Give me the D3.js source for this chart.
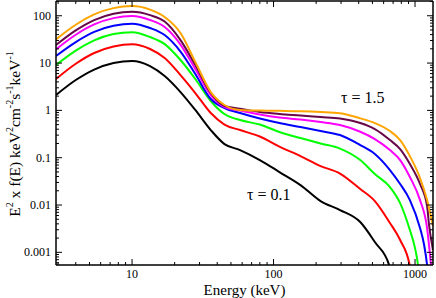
<!DOCTYPE html>
<html><head><meta charset="utf-8">
<script src="https://cdn.jsdelivr.net/npm/d3@7"></script>
<style>body{margin:0;background:#fff}svg{display:block}svg text{font-family:"Liberation Serif","Times New Roman",serif !important;fill:#000}</style>
</head><body><svg id="c" width="436" height="298"></svg>
<script>
// shared energy grid (keV)
const energyGrid = [2.9, 4, 5.4, 7.4, 10, 13.4, 17, 22, 28, 36, 45, 58, 80, 110, 155, 215, 295, 410, 520, 665];

const blackE = energyGrid.slice(0, 19).concat([656, 705]);
const blackV = [2.11, 4.38, 7.30, 10.0, 11.1, 8.65, 5.32, 2.44, 1.02, 0.384, 0.194, 0.145, 0.0892, 0.0498, 0.0264, 0.0121, 0.00783, 0.00437, 0.00165, 0.00054, 0.0002];

const redE = energyGrid.concat([785, 920, 968]);
const redV = [4.60, 9.67, 16.3, 22.3, 24.9, 19.8, 12.8, 5.58, 2.33, 0.879, 0.502, 0.384, 0.280, 0.172, 0.108, 0.0666, 0.0463, 0.0218, 0.0121, 0.00416, 0.00182, 0.00051, 0.0002];

const greenE = energyGrid.concat([785, 920, 1000, 1050, 1085]);
const greenV = [9.08, 18.3, 30.2, 41.0, 44.8, 35.5, 25.2, 11.6, 4.60, 1.58, 0.837, 0.625, 0.502, 0.349, 0.260, 0.199, 0.156, 0.0892, 0.0452, 0.0240, 0.0110, 0.00296, 0.00123, 0.00054, 0.0002];

const blueE = energyGrid.concat([785, 920, 1085, 1160, 1217, 1257]);
const blueV = [14.1, 27.8, 45.7, 61.2, 67.8, 55.0, 39.1, 17.5, 5.86, 1.74, 1.12, 0.879, 0.672, 0.540, 0.445, 0.366, 0.301, 0.185, 0.120, 0.0549, 0.0278, 0.0127, 0.00326, 0.00143, 0.00054, 0.0002];

const magentaE = energyGrid.concat([785, 920, 1085, 1217, 1297, 1340]);
const magentaV = [19.5, 39.7, 65.5, 89.0, 98.6, 81.2, 57.7, 24.6, 7.47, 2.11, 1.18, 0.992, 0.817, 0.706, 0.640, 0.567, 0.490, 0.354, 0.248, 0.145, 0.0892, 0.0390, 0.0127, 0.00326, 0.00054, 0.0002];

const maroonE = energyGrid.concat([785, 920, 1085, 1217, 1257, 1340]);
const maroonV = [24.0, 48.9, 80.7, 110, 121, 103, 75.4, 30.6, 9.08, 2.33, 1.24, 1.09, 0.922, 0.837, 0.778, 0.723, 0.672, 0.540, 0.403, 0.236, 0.152, 0.0735, 0.0278, 0.00952, 0.00378, 0.00112];

const orangeE = energyGrid.concat([785, 920, 1085, 1217, 1340]);
const orangeV = [31.7, 64.5, 107, 145, 160, 135, 93.9, 43.1, 10.5, 2.44, 1.30, 1.02, 0.992, 0.978, 0.959, 0.922, 0.866, 0.679, 0.540, 0.366, 0.236, 0.108, 0.0372, 0.0127, 0.00360];

const seriesColors = ["#000000", "#ff0000", "#00ff00", "#0000ff", "#ff00ff", "#670748", "#ffa500"];
const xTicks = [10, 100, 1000];
const xTickLabels = ["10", "100", "1000"];
const yTicks = [0.001, 0.01, 0.1, 1, 10, 100];
const yTickLabels = ["0.001", "0.01", "0.1", "1", "10", "100"];
const annotations = [{t: "τ = 1.5", e: 300, v: 1.46}, {t: "τ = 0.1", e: 65, v: 0.0127}];

const series = [[blackE, blackV], [redE, redV], [greenE, greenV], [blueE, blueV], [magentaE, magentaV], [maroonE, maroonV], [orangeE, orangeV]];

const L = 56, R = 433, T = 1, B = 265;
const x = d3.scaleLog().domain([2.9, 1340]).range([L, R]);
const y = d3.scaleLog().domain([5.4e-4, 205]).range([B, T]);
const svg = d3.select("#c");

svg.append("clipPath").attr("id", "clip").append("rect")
  .attr("x", L).attr("y", T).attr("width", R - L).attr("height", B - T);

const line = d3.line().x(d => x(d[0])).y(d => y(d[1])).curve(d3.curveMonotoneX);
const g = svg.append("g").attr("clip-path", "url(#clip)");
series.forEach((s, i) => {
  const pts = s[0].map((e, j) => [e, s[1][j]]);
  g.append("path").attr("d", line(pts)).attr("fill", "none")
    .attr("stroke", seriesColors[i]).attr("stroke-width", 2).attr("stroke-linejoin", "round");
});

// minor ticks
const xMinor = [];
[1, 10, 100].forEach(d => { for (let k = 2; k <= 9; k++) { const v = d * k; if (v >= 2.9 && v <= 1340) xMinor.push(v); } });
const yMinor = [];
[1e-4, 1e-3, 1e-2, 1e-1, 1, 10, 100].forEach(d => { for (let k = 2; k <= 9; k++) { const v = d * k; if (v >= 5.4e-4 && v <= 205) yMinor.push(v); } });

function styleAxis(sel) {
  sel.attr("font-family", null);
  sel.selectAll("path.domain").attr("stroke", "#000").attr("stroke-width", 1);
  sel.selectAll(".tick line").attr("stroke", "#000").attr("stroke-width", 1);
  sel.selectAll("text").style("font-family", "'Liberation Serif', serif").attr("font-size", 12).attr("fill", "#000");
}
const ax = [
  [d3.axisBottom(x).tickValues(xTicks).tickFormat((d, i) => xTickLabels[i]).tickSizeInner(-6).tickSizeOuter(0).tickPadding(4), `translate(0,${B})`],
  [d3.axisBottom(x).tickValues(xMinor).tickFormat("").tickSizeInner(-3).tickSizeOuter(0), `translate(0,${B})`],
  [d3.axisTop(x).tickValues(xTicks).tickFormat("").tickSizeInner(-6).tickSizeOuter(0), `translate(0,${T})`],
  [d3.axisTop(x).tickValues(xMinor).tickFormat("").tickSizeInner(-3).tickSizeOuter(0), `translate(0,${T})`],
  [d3.axisLeft(y).tickValues(yTicks).tickFormat((d, i) => yTickLabels[i]).tickSizeInner(-6).tickSizeOuter(0).tickPadding(5), `translate(${L},0)`],
  [d3.axisLeft(y).tickValues(yMinor).tickFormat("").tickSizeInner(-3).tickSizeOuter(0), `translate(${L},0)`],
  [d3.axisRight(y).tickValues(yTicks).tickFormat("").tickSizeInner(-6).tickSizeOuter(0), `translate(${R},0)`],
  [d3.axisRight(y).tickValues(yMinor).tickFormat("").tickSizeInner(-3).tickSizeOuter(0), `translate(${R},0)`]
];
ax.forEach(a => { const s = svg.append("g").attr("transform", a[1]).call(a[0].offset(0)); styleAxis(s); });

// axis titles
svg.append("text").attr("x", (L + R) / 2).attr("y", 294.5).attr("text-anchor", "middle")
  .attr("font-size", 15).text("Energy (keV)");

const yt = svg.append("text").attr("transform", `translate(20,${(T + B) / 2 + 1}) rotate(-90)`)
  .attr("text-anchor", "middle").attr("font-size", 15.5);
const parts = [["E", 0], ["2", 1], [" x f(E) keV", 0], ["2", 1], ["cm", 0], ["-2", 1], ["s", 0], ["-1", 1], ["keV", 0], ["-1", 1]];
let up = false;
parts.forEach(p => {
  const ts = yt.append("tspan").text(p[0]);
  if (p[1]) { ts.attr("font-size", 10).attr("dy", up ? 0 : -7); up = true; }
  else { ts.attr("dy", up ? 7 : 0); up = false; }
});

annotations.forEach(a => {
  svg.append("text").attr("x", x(a.e)).attr("y", y(a.v)).attr("font-size", 16).text(a.t);
});
</script></body></html>
